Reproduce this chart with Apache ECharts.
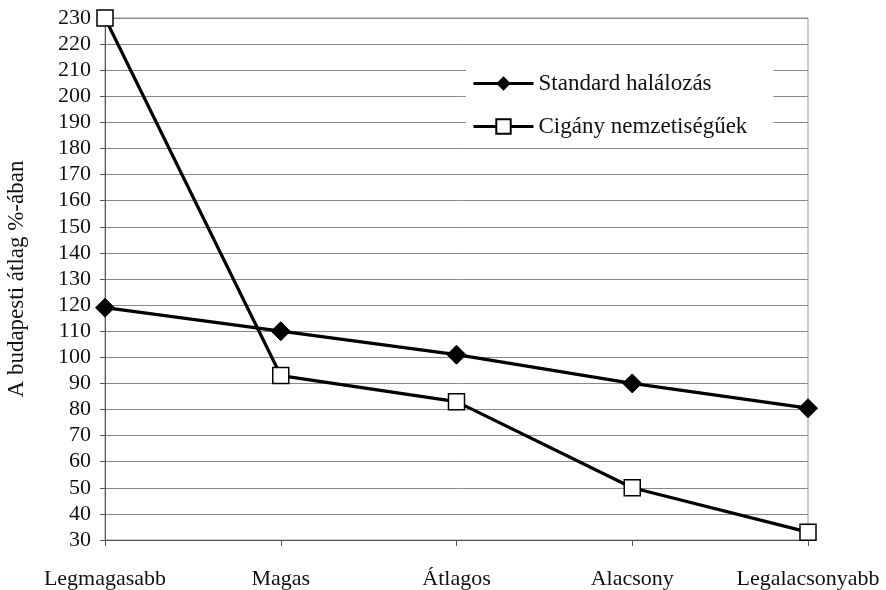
<!DOCTYPE html>
<html>
<head>
<meta charset="utf-8">
<script src="https://cdn.jsdelivr.net/npm/echarts@6/dist/echarts.min.js"></script>
<style>
  html, body { margin: 0; padding: 0; background: #fff; }
  #chart { width: 886px; height: 590px; }
</style>
</head>
<body>
<div id="chart"></div>
<script>
var categories = ['Legmagasabb', 'Magas', 'Átlagos', 'Alacsony', 'Legalacsonyabb'];
var standardValues = [119, 110, 101, 90, 80.5];
var ciganyValues = [230, 93, 83, 50, 33];

var font = '"Liberation Serif", "DejaVu Serif", serif';

var chart = echarts.init(document.getElementById('chart'), null, { renderer: 'canvas' });

var option = {
    backgroundColor: '#fff',
    animation: false,
    textStyle: { fontFamily: font, color: '#111' },
    grid: {
        left: 105, right: 78, top: 18, bottom: 50,
        outerBoundsMode: 'none',
        containLabel: false,
        show: true, borderColor: '#999', borderWidth: 1
    },
    legend: {
        orient: 'vertical',
        left: 466, top: 62,
        backgroundColor: '#fff',
        padding: [10, 26, 8, 6],
        itemGap: 20,
        itemWidth: 60, itemHeight: 18,
        lineStyle: { width: 3, color: '#000' },
        textStyle: { fontFamily: font, fontSize: 23, color: '#111' },
        data: ['Standard halálozás', 'Cigány nemzetiségűek']
    },
    xAxis: {
        type: 'category',
        data: categories,
        boundaryGap: false,
        axisLine: { lineStyle: { color: '#555', width: 1 } },
        axisTick: { show: true, length: 6, lineStyle: { color: '#555' } },
        axisLabel: { fontFamily: font, fontSize: 22, color: '#111', margin: 28, interval: 0 }
    },
    yAxis: {
        type: 'value',
        min: 30, max: 230, interval: 10,
        name: 'A budapesti átlag %-ában',
        nameLocation: 'middle',
        nameGap: 77,
        nameRotate: 90,
        nameTextStyle: { fontFamily: font, fontSize: 23, color: '#111' },
        axisLine: { show: true, lineStyle: { color: '#555', width: 1 } },
        axisTick: { show: true, length: 5, inside: false, lineStyle: { color: '#555' } },
        axisLabel: { fontFamily: font, fontSize: 22, color: '#111', margin: 14 },
        splitLine: { show: true, lineStyle: { color: '#888', width: 1 } }
    },
    series: [
        {
            name: 'Standard halálozás',
            type: 'line',
            data: standardValues,
            symbol: 'diamond',
            symbolSize: 19,
            lineStyle: { color: '#000', width: 3.2 },
            itemStyle: { color: '#000', borderColor: '#000' }
        },
        {
            name: 'Cigány nemzetiségűek',
            type: 'line',
            data: ciganyValues,
            symbol: 'rect',
            symbolSize: 16,
            lineStyle: { color: '#000', width: 3.2 },
            itemStyle: { color: '#fff', borderColor: '#000', borderWidth: 1.5 }
        }
    ]
};

chart.setOption(option);
</script>
</body>
</html>
